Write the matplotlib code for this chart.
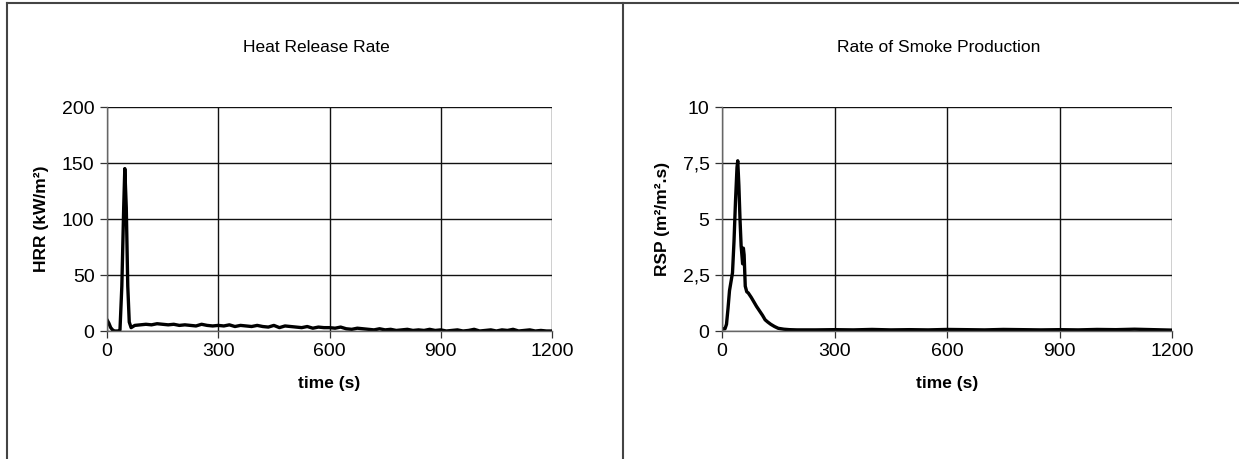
import matplotlib.pyplot as plt
from matplotlib.lines import Line2D

plt.rcParams['font.family'] = ['Liberation Sans', 'DejaVu Sans']

# heat release rate (kW/m2)
hrr_t = [0, 5, 10, 15, 20, 25, 30, 35, 40, 45, 48, 52, 56, 60, 65, 70,
         75, 90, 105, 120, 135, 150, 165, 180, 195, 210, 225, 240, 255, 270, 285,
         300, 315, 330, 345, 360, 375, 390, 405, 420, 435, 450, 465, 480, 495,
         510, 525, 540, 555, 570, 585, 600, 615, 630, 645, 660, 675, 690, 705,
         720, 735, 750, 765, 780, 795, 810, 825, 840, 855, 870, 885, 900, 915,
         930, 945, 960, 975, 990, 1005, 1020, 1035, 1050, 1065, 1080, 1095,
         1110, 1125, 1140, 1155, 1170, 1185, 1200]
hrr = [10, 7, 3, 1, 0, 0, 0, 1, 40, 110, 145, 110, 40, 8, 3, 4,
       5, 5.5, 6, 5.5, 6.5, 6, 5.5, 6, 5, 5.5, 5, 4.5, 6, 5, 4.5,
       5, 4.5, 5.5, 4, 5, 4.5, 4, 5, 4, 3.5, 5, 3, 4.5, 4,
       3.5, 3, 4, 2.5, 3.5, 3, 3, 2.5, 3.5, 2, 1.5, 2.5, 2, 1.5,
       1, 2, 1, 1.5, 0.5, 1, 1.5, 0.5, 1, 0.5, 1.5, 0.5, 1, 0,
       0.5, 1, 0, 0.5, 1.5, 0, 0.5, 1, 0, 1, 0.5, 1.5,
       0, 0.5, 1, 0, 0.5, 0, 0]

# rate of smoke production (m2/m2.s)
rsp_t = [0, 8, 12, 16, 20, 24, 28, 32, 36, 40, 42, 45, 48, 51, 53, 55, 57, 59,
         62, 66, 70, 78, 85, 92, 100, 108, 115, 122, 130, 140, 150, 165, 180,
         200, 250, 300, 350, 400, 450, 500, 550, 600, 650, 700, 750, 800, 850,
         900, 950, 1000, 1050, 1100, 1150, 1200]
rsp = [0.1, 0.1, 0.3, 1.0, 1.8, 2.2, 2.6, 4.0, 5.8, 7.3, 7.6, 6.5, 5.0, 3.8,
       3.4, 3.0, 3.7, 3.4, 2.0, 1.75, 1.7, 1.5, 1.3, 1.1, 0.9, 0.7, 0.5, 0.4,
       0.3, 0.2, 0.12, 0.08, 0.06, 0.05, 0.05, 0.06, 0.05, 0.07, 0.05, 0.06,
       0.05, 0.07, 0.06, 0.05, 0.07, 0.06, 0.05, 0.06, 0.05, 0.07, 0.06, 0.08,
       0.06, 0.04]

xticks = [0, 300, 600, 900, 1200]
hrr_yticks = [0, 50, 100, 150, 200]
rsp_yticks = [0, 2.5, 5, 7.5, 10]
rsp_ylabels = ['0', '2,5', '5', '7,5', '10']

fig = plt.figure(figsize=(12.39, 4.59), dpi=100)
W, H = 1239, 459

ax1 = fig.add_axes([107 / W, 1 - 331 / H, 445 / W, 224 / H])
ax2 = fig.add_axes([722 / W, 1 - 331 / H, 450 / W, 224 / H])

for ax in (ax1, ax2):
    ax.set_xlim(0, 1200)
    ax.set_xticks(xticks)
    ax.grid(True, color='#111111', lw=1.0)
    ax.set_axisbelow(True)
    for s in ('top', 'right'):
        ax.spines[s].set_visible(False)
    for s in ('left', 'bottom'):
        ax.spines[s].set_color('#666666')
        ax.spines[s].set_linewidth(1.0)
    ax.tick_params(direction='out', length=5, width=0.9, color='#333333',
                   labelsize=14, pad=4)
    ax.set_xlabel('time (s)', fontsize=12.5, fontweight='bold', labelpad=11)

ax1.plot(hrr_t, hrr, color='black', lw=2.4)
ax1.set_ylim(0, 200)
ax1.set_yticks(hrr_yticks)
ax1.set_ylabel('HRR (kW/m²)', fontsize=12.5, fontweight='bold', labelpad=9)

ax2.plot(rsp_t, rsp, color='black', lw=2.4)
ax2.set_ylim(0, 10)
ax2.set_yticks(rsp_yticks)
ax2.set_yticklabels(rsp_ylabels)
ax2.set_ylabel('RSP (m²/m².s)', fontsize=12.5, fontweight='bold', labelpad=9)

fig.text(316 / W, 1 - 47 / H, 'Heat Release Rate', ha='center', va='center', fontsize=12.5)
fig.text(939 / W, 1 - 47 / H, 'Rate of Smoke Production', ha='center', va='center', fontsize=12.5)

# panel frames
frame = dict(color='#444444', lw=1.5, transform=fig.transFigure)
fig.add_artist(Line2D([7 / W, 1], [1 - 3 / H, 1 - 3 / H], **frame))
fig.add_artist(Line2D([7 / W, 7 / W], [0, 1 - 3 / H], **frame))
fig.add_artist(Line2D([623 / W, 623 / W], [0, 1 - 3 / H], **frame))

fig.savefig('out.png', dpi=100)
